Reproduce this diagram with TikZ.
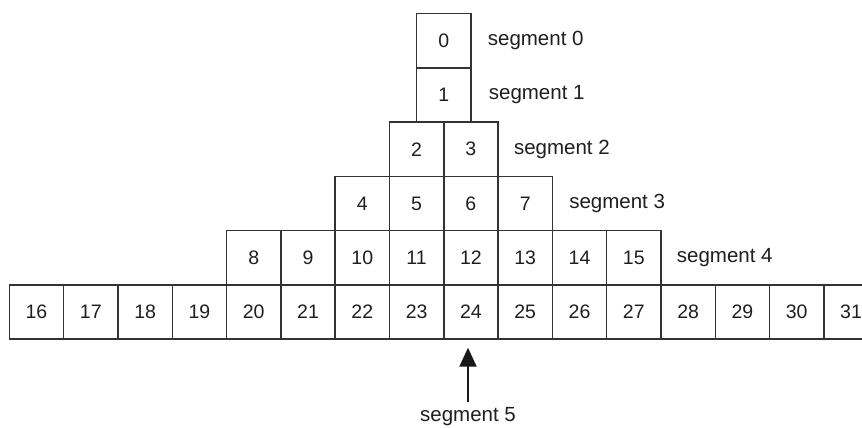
\documentclass[tikz,border=0pt]{standalone}
\usepackage{fontspec}
\setmainfont{Liberation Sans}
\usetikzlibrary{arrows.meta}
\begin{document}
\begin{tikzpicture}[x=1pt,y=-1pt,
  cell/.style={draw=black!80, line width=1.5pt, minimum width=54.3pt, minimum height=54.2pt,
    inner sep=0pt, anchor=north west, font=\fontsize{19.5}{22}\selectfont, text=black!88},
  seglabel/.style={anchor=west, inner sep=0pt, font=\fontsize{20.5}{22}\selectfont, text=black!88},
  pointer/.style={line width=2pt, black!90, -{Triangle[length=19pt,width=17pt]}}]
\clip (0,0) rectangle (862,428);
\fill[white] (0,0) rectangle (862,428);
% row 0 and 1
\node[cell] (b0) at (415.85,13) {0};
\node[cell] (b1) at (415.85,67.2) {1};
% row 2
\foreach \i in {2,3}{
  \node[cell] (b\i) at ({443+(\i-3)*54.3},121.4) {\i};
}
% row 3
\foreach \i in {4,...,7}{
  \node[cell] (b\i) at ({443+(\i-6)*54.3},175.6) {\i};
}
% row 4
\foreach \i in {8,...,15}{
  \node[cell] (b\i) at ({443+(\i-12)*54.3},229.8) {\i};
}
% row 5
\foreach \i in {16,...,31}{
  \node[cell] (b\i) at ({443+(\i-24)*54.3},284) {\i};
}
% labels
\node[seglabel] (s0) at ([xshift=16pt]b0.east) {segment 0};
\node[seglabel] (s1) at ([xshift=17pt]b1.east) {segment 1};
\node[seglabel] (s2) at ([xshift=15pt]b3.east) {segment 2};
\node[seglabel] (s3) at ([xshift=16pt]b7.east) {segment 3};
\node[seglabel] (s4) at ([xshift=15pt]b15.east) {segment 4};
\node[seglabel, anchor=center] (s5) at (468,417) {segment 5};
\coordinate (tail) at ([yshift=6pt]s5.north);
\coordinate (tip) at ([yshift=-8pt]b24.south -| tail);
\draw[pointer] (tail) -- (tip);
\end{tikzpicture}
\end{document}
